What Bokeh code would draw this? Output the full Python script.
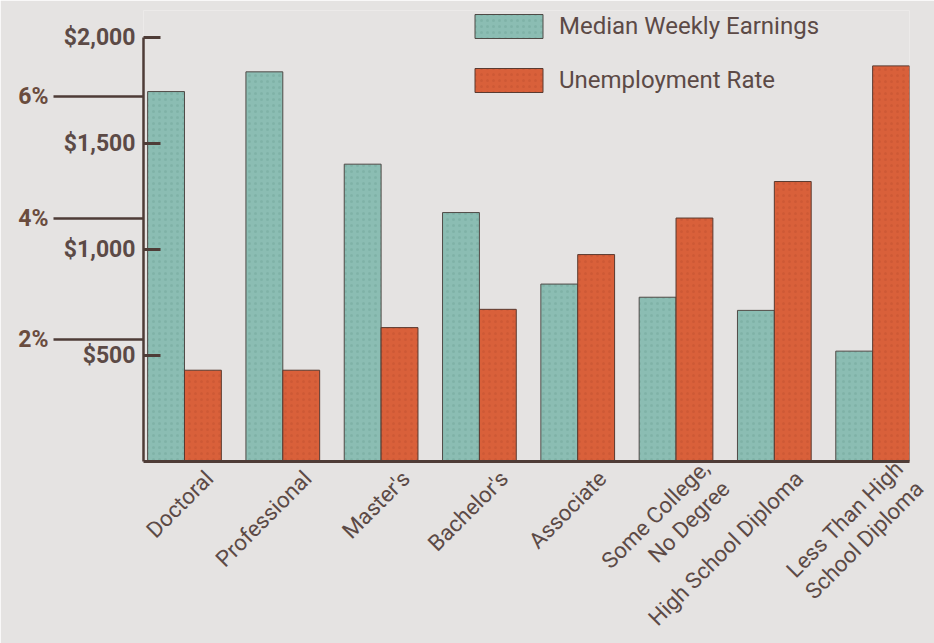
from bokeh.plotting import figure
from bokeh.models import (ColumnDataSource, Range1d, LinearAxis, FixedTicker,
                          NumeralTickFormatter, PrintfTickFormatter, Legend, LegendItem)
from bokeh.transform import dodge
from bokeh.embed import file_html
from bokeh.resources import INLINE

categories = ["Doctoral", "Professional", "Master's", "Bachelor's", "Associate",
              "Some College,\nNo Degree", "High School Diploma",
              "Less Than High\nSchool Diploma"]
earnings = [1743, 1836, 1401, 1173, 836, 774, 712, 520]
unemployment = [1.5, 1.5, 2.2, 2.5, 3.4, 4.0, 4.6, 6.5]
dollar_ticks = [500, 1000, 1500, 2000]
pct_ticks = [2, 4, 6]

BG = "#e5e3e2"
TEAL = "#8bbdb3"
ORANGE = "#d9603a"
DARK = "#4e3c37"
TXT = "#5c4a46"
FONT = "Roboto"
X_START, X_END = -0.417, 7.375

idx = list(range(len(categories)))
src = ColumnDataSource(dict(idx=idx, earn=earnings, pct=unemployment))

p = figure(width=934, height=643, output_backend="svg", toolbar_location=None,
           x_range=Range1d(X_START, X_END), y_range=Range1d(0, 2125),
           min_border_left=143, min_border_right=25, min_border_top=10,
           min_border_bottom=182, outline_line_color=None,
           background_fill_color=BG, border_fill_color=BG)
p.extra_y_ranges = {"pct": Range1d(0, 7.41)}
p.xgrid.visible = False
p.ygrid.visible = False
p.yaxis.visible = False

r1 = p.vbar(x=dodge("idx", -0.1875, range=p.x_range), top="earn", width=0.375, source=src,
            fill_color=TEAL, line_color="#4f4a46", line_width=1,
            hatch_pattern="dot", hatch_color="#3f6f68", hatch_alpha=0.15, hatch_scale=6)
r2 = p.vbar(x=dodge("idx", 0.1875, range=p.x_range), top="pct", width=0.375, source=src,
            y_range_name="pct",
            fill_color=ORANGE, line_color="#5a3a30", line_width=1,
            hatch_pattern="dot", hatch_color="#8a2e18", hatch_alpha=0.15, hatch_scale=6)

# x axis: rotated labels, anchored a little right of each group's centre
xa = p.xaxis[0]
tick_pos = [min(i + (0.40 if "\n" in c else 0.25), X_END - 0.004)
            for i, c in zip(idx, categories)]
xa.ticker = FixedTicker(ticks=tick_pos)
xa.major_label_overrides = {t: c for t, c in zip(tick_pos, categories)}
xa.major_label_orientation = 0.785398
xa.major_tick_line_color = None
xa.minor_tick_line_color = None
xa.axis_line_color = DARK
xa.axis_line_width = 3
xa.major_label_text_font = FONT
xa.major_label_text_font_size = "22.3px"
xa.major_label_text_color = TXT
xa.major_label_text_line_height = 1.1
xa.major_label_standoff = 7

# dollar axis
da = LinearAxis(ticker=FixedTicker(ticks=dollar_ticks),
                formatter=NumeralTickFormatter(format="$0,0"), bounds=(0, 2000))
da.axis_line_color = DARK
da.axis_line_width = 2.5
da.major_tick_line_color = DARK
da.major_tick_line_width = 3
da.major_tick_in = 17
da.major_tick_out = 0
da.minor_tick_line_color = None
da.major_label_text_font = FONT
da.major_label_text_font_style = "bold"
da.major_label_text_font_size = "23px"
da.major_label_text_color = TXT
da.major_label_standoff = 8
p.add_layout(da, "left")

# percent axis
pa = LinearAxis(y_range_name="pct", ticker=FixedTicker(ticks=pct_ticks),
                formatter=PrintfTickFormatter(format="%d%%"))
pa.axis_line_color = None
pa.major_tick_line_color = DARK
pa.major_tick_line_width = 2.5
pa.major_tick_in = 83
pa.major_tick_out = 7
pa.minor_tick_line_color = None
pa.major_label_text_font = FONT
pa.major_label_text_font_style = "bold"
pa.major_label_text_font_size = "23px"
pa.major_label_text_color = "#6a4c3e"
pa.major_label_standoff = 5
p.add_layout(pa, "left")

legend = Legend(items=[LegendItem(label="Median Weekly Earnings", renderers=[r1]),
                       LegendItem(label="Unemployment Rate", renderers=[r2])],
                location=(323, 366), orientation="vertical",
                glyph_width=85, glyph_height=30, spacing=24, label_standoff=8,
                padding=0, margin=0, border_line_color=None,
                background_fill_alpha=0, label_text_font=FONT,
                label_text_font_size="24px", label_text_color=TXT)
p.add_layout(legend, "center")

open("out.html", "w").write(file_html(p, INLINE))
